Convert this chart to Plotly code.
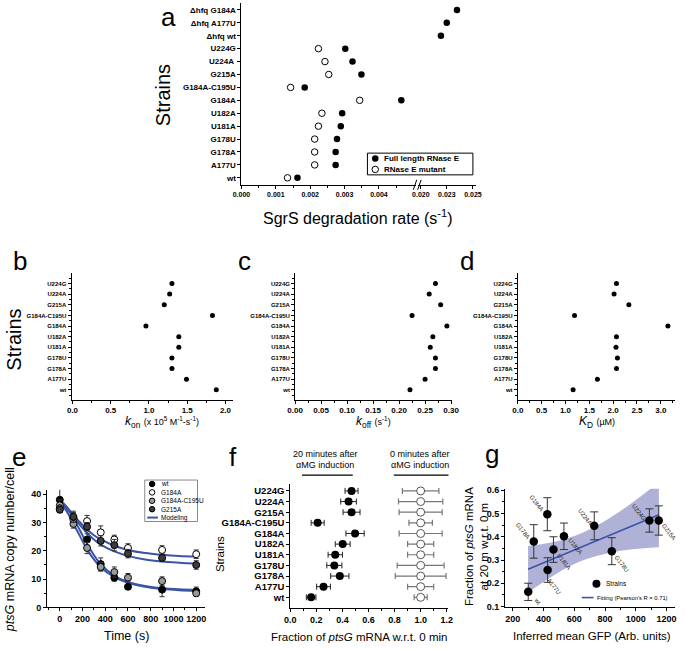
import plotly.graph_objects as go

W, H = 685, 649
FONT = "Liberation Sans, Arial, sans-serif"

# ---------------- data ----------------
# panel a (bottom -> top)
strains_a = ["wt", "A177U", "G178A", "G178U", "U181A", "U182A", "G184A", "G184A-C195U",
             "G215A", "U224A ", "U224G", "Δhfq wt", "Δhfq A177U", "Δhfq G184A"]
rate_full = [0.00163, 0.00274, 0.00274, 0.00278, 0.00289, 0.00293, 0.00465, 0.00184,
             0.00349, 0.00323, 0.00302, 0.02193, 0.02249, 0.02347]
rate_mutant = [0.00134, 0.00213, 0.00213, 0.00213, 0.00224, 0.00234, 0.00344, 0.00143,
               0.00254, 0.00243, 0.00224, None, None, None]
a_ticks_low = [0.000, 0.001, 0.002, 0.003, 0.004]
a_ticks_high = [0.020, 0.0225, 0.025]
a_ticktext_high = ["0.020", "0.023", "0.025"]

# panels b, c, d, f (bottom -> top)
strains = ["wt", "A177U", "G178A", "G178U", "U181A", "U182A", "G184A", "G184A-C195U",
           "G215A", "U224A", "U224G"]
kon = [1.88, 1.49, 1.30, 1.30, 1.39, 1.39, 0.96, 1.83, 1.20, 1.27, 1.30]
koff = [0.221, 0.250, 0.270, 0.270, 0.260, 0.265, 0.292, 0.225, 0.280, 0.258, 0.270]
kd = [1.16, 1.67, 2.07, 2.09, 2.06, 2.07, 3.15, 1.19, 2.33, 2.02, 2.07]

# panel e
times = [0, 120, 240, 360, 480, 600, 900, 1200]
e_wt = [38.0, 31.5, 24.0, 15.3, 10.5, 7.3, 6.3, 5.7]
e_wt_err = [4.5, 2.0, 2.0, 2.2, 1.2, 0.8, 2.5, 1.5]
e_g184a = [36.0, 31.0, 30.5, 26.5, 24.0, 21.0, 20.3, 18.8]
e_g184a_err = [2.0, 2.0, 2.0, 2.3, 1.5, 1.5, 1.5, 1.5]
e_c195u = [35.0, 29.5, 21.0, 14.3, 12.5, 10.5, 9.3, 5.0]
e_c195u_err = [1.5, 1.5, 2.0, 1.5, 1.8, 1.5, 1.5, 1.0]
e_g215a = [34.5, 32.0, 28.5, 23.5, 22.0, 19.0, 17.5, 15.0]
e_g215a_err = [1.0, 2.0, 1.5, 1.8, 2.0, 1.5, 1.3, 1.5]
model_t = [0, 60, 120, 180, 240, 300, 360, 480, 600, 750, 900, 1050, 1200]
model_wt = [38.0, 35.5, 31.5, 27.0, 22.5, 18.5, 15.3, 11.2, 9.0, 7.6, 6.8, 6.4, 6.2]
model_c195u = [37.0, 34.0, 29.5, 25.0, 20.5, 17.0, 14.2, 10.7, 8.7, 7.3, 6.5, 6.1, 5.9]
model_g184a = [37.5, 35.5, 32.5, 30.0, 27.5, 25.5, 24.0, 21.8, 20.3, 19.2, 18.6, 18.2, 18.0]
model_g215a = [37.0, 35.0, 32.0, 29.0, 26.3, 24.0, 22.2, 19.8, 18.2, 16.9, 16.2, 15.8, 15.5]

# panel f
frac20 = [0.160, 0.255, 0.380, 0.338, 0.345, 0.402, 0.497, 0.210, 0.470, 0.447, 0.470]
frac20_err = [0.037, 0.053, 0.070, 0.058, 0.055, 0.057, 0.070, 0.050, 0.065, 0.060, 0.050]
frac0 = [1.0, 1.0, 1.0, 1.0, 1.0, 1.0, 1.0, 1.0, 1.0, 1.0, 1.0]
frac0_err = [0.05, 0.10, 0.195, 0.18, 0.10, 0.10, 0.165, 0.09, 0.165, 0.17, 0.14]

# panel g
strains_g = ["wt", "A177U", "G178A", "G178U", "U181A", "U182A", "G184A", "G215A", "U224A", "U224G"]
gfp = [301, 427, 337, 844, 465, 533, 425, 1149, 730, 1088]
frac_g = [0.163, 0.257, 0.380, 0.338, 0.345, 0.402, 0.497, 0.470, 0.447, 0.470]
frac_g_err = [0.037, 0.053, 0.072, 0.058, 0.055, 0.057, 0.071, 0.063, 0.060, 0.050]
fit_x = [300, 1150]
fit_y = [0.260, 0.495]
band_x = [300, 450, 600, 750, 900, 1050, 1150]
band_lo = [0.160, 0.227, 0.283, 0.318, 0.340, 0.351, 0.355]
band_hi = [0.360, 0.375, 0.403, 0.450, 0.511, 0.583, 0.635]
# label offsets (pixels) for strain labels in g
g_label_dx = [9, 6, -11, 10, 11, 11, -11, 10, -9, -11]
g_label_dy = [-9, -16, 10, -13, -12, -10, 11, -12, 9, 8]


def px(x):
    return x / W


def py(y):
    return 1 - y / H


BLUE = "#3a55a6"
fig = go.Figure()


def axis(dom, rng, anchor, size=8, **kw):
    d = dict(domain=dom, range=rng, anchor=anchor, showline=True, linecolor="black",
             linewidth=1, ticks="outside", ticklen=3, tickwidth=1, tickcolor="black",
             showgrid=False, zeroline=False, fixedrange=True,
             tickfont=dict(family=FONT, size=size, color="black", weight="bold"))
    d.update(kw)
    return d


# ---------------- panel a ----------------
lo_idx = [i for i, v in enumerate(rate_full) if v is not None and v < 0.01]
hi_idx = [i for i, v in enumerate(rate_full) if v is not None and v >= 0.01]
fig.add_trace(go.Scatter(x=[rate_mutant[i] for i in range(len(strains_a)) if rate_mutant[i] is not None],
                         y=[i for i in range(len(strains_a)) if rate_mutant[i] is not None],
                         mode="markers", xaxis="x", yaxis="y",
                         marker=dict(symbol="circle", size=6.5, color="white",
                                     line=dict(color="black", width=1))))
fig.add_trace(go.Scatter(x=[rate_full[i] for i in lo_idx], y=lo_idx, mode="markers",
                         xaxis="x", yaxis="y", marker=dict(size=6.5, color="black")))
fig.add_trace(go.Scatter(x=[rate_full[i] for i in hi_idx], y=hi_idx, mode="markers",
                         xaxis="x2", yaxis="y", marker=dict(size=6.5, color="black")))

# ---------------- panels b, c, d ----------------
ypos = list(range(len(strains)))
for vals, xa, ya in [(kon, "x3", "y3"), (koff, "x4", "y4"), (kd, "x5", "y5")]:
    fig.add_trace(go.Scatter(x=vals, y=ypos, mode="markers", xaxis=xa, yaxis=ya,
                             marker=dict(size=5, color="black")))

# ---------------- panel e ----------------
for mt in [model_wt, model_c195u, model_g184a, model_g215a]:
    fig.add_trace(go.Scatter(x=model_t, y=mt, mode="lines", line=dict(color=BLUE, width=2, shape="spline"),
                             xaxis="x6", yaxis="y6"))
e_series = [
    (e_wt, e_wt_err, dict(symbol="circle", color="black", line=dict(color="black", width=1))),
    (e_g184a, e_g184a_err, dict(symbol="circle", color="white", line=dict(color="black", width=1))),
    (e_c195u, e_c195u_err, dict(symbol="circle", color="#9a9a9a", line=dict(color="black", width=1))),
    (e_g215a, e_g215a_err, dict(symbol="circle", color="#3c3c3c", line=dict(color="black", width=1))),
]
for vals, errs, mk in e_series:
    fig.add_trace(go.Scatter(x=times, y=vals, mode="markers", xaxis="x6", yaxis="y6",
                             error_y=dict(type="data", array=errs, color="#333", thickness=1, width=2.5),
                             marker=dict(size=7, **mk)))

# ---------------- panel f ----------------
fig.add_trace(go.Scatter(x=frac0, y=ypos, mode="markers", xaxis="x7", yaxis="y7",
                         error_x=dict(type="data", array=frac0_err, color="#777", thickness=1.2, width=3),
                         marker=dict(size=8, color="white", line=dict(color="#555", width=1))))
fig.add_trace(go.Scatter(x=frac20, y=ypos, mode="markers", xaxis="x7", yaxis="y7",
                         error_x=dict(type="data", array=frac20_err, color="#222", thickness=1, width=3),
                         marker=dict(size=8, color="black")))

# ---------------- panel g ----------------
fig.add_trace(go.Scatter(x=band_x, y=band_lo, mode="lines", line=dict(width=0, shape="spline"),
                         xaxis="x8", yaxis="y8"))
fig.add_trace(go.Scatter(x=band_x, y=band_hi, mode="lines", line=dict(width=0, shape="spline"),
                         fill="tonexty", fillcolor="#b0b1d6", xaxis="x8", yaxis="y8"))
fig.add_trace(go.Scatter(x=fit_x, y=fit_y, mode="lines", line=dict(color=BLUE, width=1.6),
                         xaxis="x8", yaxis="y8"))
fig.add_trace(go.Scatter(x=gfp, y=frac_g, mode="markers", xaxis="x8", yaxis="y8",
                         error_y=dict(type="data", array=frac_g_err, color="#333", thickness=1, width=4),
                         marker=dict(size=8.5, color="black")))

annotations = []
for s, gx, gy, dx, dy in zip(strains_g, gfp, frac_g, g_label_dx, g_label_dy):
    annotations.append(dict(x=gx, y=gy, xref="x8", yref="y8", text=s, showarrow=False,
                            xshift=dx, yshift=dy, textangle=52,
                            font=dict(family=FONT, size=6, color="#222")))

# ---------------- manual legends (pixel overlay axis) ----------------
leg = dict(xaxis="x9", yaxis="y9", hoverinfo="skip")
# a
fig.add_trace(go.Scatter(x=[375], y=[157.5], mode="markers", marker=dict(size=6.5, color="black"), **leg))
fig.add_trace(go.Scatter(x=[375], y=[168.5], mode="markers",
                         marker=dict(size=6.5, color="white", line=dict(color="black", width=1)), **leg))
# e
for yy, (_, _, mk) in zip([487, 495.5, 504, 512.5], e_series):
    fig.add_trace(go.Scatter(x=[146.5], y=[yy], mode="markers", marker=dict(size=5.5, **mk), **leg))
fig.add_trace(go.Scatter(x=[141.5, 152.5], y=[521, 521], mode="lines", line=dict(color=BLUE, width=2), **leg))
# g
fig.add_trace(go.Scatter(x=[601.5], y=[588], mode="markers", marker=dict(size=8, color="black"), **leg))
fig.add_trace(go.Scatter(x=[586.5, 598.5], y=[602, 602], mode="lines", line=dict(color=BLUE, width=1.6), **leg))


def text(x, y, t, size, anchor="center", angle=0, weight="normal", color="black"):
    annotations.append(dict(x=px(x), y=py(y), xref="paper", yref="paper", text=t, showarrow=False,
                            xanchor=anchor, yanchor="middle", textangle=angle,
                            font=dict(family=FONT, size=size, color=color, weight=weight)))


# legend texts
text(382, 157.5, "Full length RNase E", 8, "left", weight="bold")
text(382, 168.5, "RNase E mutant", 8, "left", weight="bold")
for yy, t in zip([487, 495.5, 504, 512.5, 521], ["wt", "G184A", "G184A-C195U", "G215A", "Modeling"]):
    text(154, yy, t, 6.5, "left")
text(609, 588, "Strains", 6.5, "left")
text(600, 602, "Fitting (Pearson's R = 0.71)", 5.8, "left")

# panel letters
for lx, ly, t in [(163, 14, "a"), (11, 261, "b"), (241, 261, "c"), (469, 261, "d"),
                  (10, 460, "e"), (229, 460, "f"), (495, 457, "g")]:
    text(lx, ly, t, 26)

# axis titles
text(158, 93, "Strains", 20, angle=-90)
text(5, 341, "Strains", 20, angle=-90)
text(216, 558, "Strains", 11.5, angle=-90)
text(357, 217, "SgrS degradation rate (s<sup>-1</sup>)", 16)
text(157, 424, "<i>k</i><sub>on</sub> <span style='font-size:9px'>(x 10<sup>5</sup> M<sup>-1</sup>-s<sup>-1</sup>)</span>", 12)
text(373, 424, "<i>k</i><sub>off</sub> <span style='font-size:9px'>(s<sup>-1</sup>)</span>", 12)
text(602, 424, "<i>K</i><sub>D</sub> <span style='font-size:9px'>(µM)</span>", 12)
text(1, 553, "<i>ptsG</i> mRNA copy number/cell", 12.5, angle=-90)
text(120, 641, "Time (s)", 12.5)
text(358, 642, "Fraction of <i>ptsG</i> mRNA w.r.t. 0 min", 11.5)
text(478, 550, "Fraction of <i>ptsG</i> mRNA<br>at 20 m w.r.t. 0 m", 11.5, angle=-90)
text(597, 641, "Inferred mean GFP (Arb. units)", 11.5)
text(324, 457, "20 minutes after", 9)
text(324, 468, "αMG induction", 9)
text(421, 457, "0 minutes after", 9)
text(421, 468, "αMG induction", 9)

shapes = [
    # legend boxes
    dict(type="rect", xref="paper", yref="paper", x0=px(367), x1=px(475), y0=py(152), y1=py(174),
         line=dict(color="black", width=1)),
    dict(type="rect", xref="paper", yref="paper", x0=px(139), x1=px(193), y0=py(483), y1=py(525),
         line=dict(color="#888", width=1)),
    # axis break marks
    dict(type="line", xref="paper", yref="paper", x0=px(414), x1=px(417.5), y0=py(189), y1=py(179),
         line=dict(color="black", width=1)),
    dict(type="line", xref="paper", yref="paper", x0=px(418.5), x1=px(422), y0=py(189), y1=py(179),
         line=dict(color="black", width=1)),
    # f header underlines
    dict(type="line", xref="paper", yref="paper", x0=px(300), x1=px(352), y0=py(478), y1=py(478),
         line=dict(color="black", width=1.2)),
    dict(type="line", xref="paper", yref="paper", x0=px(394), x1=px(450), y0=py(478), y1=py(478),
         line=dict(color="black", width=1.2)),
]

yb_dom = [py(401.7), py(273)]
cat_minor = dict(ticks="outside", ticklen=2, tickcolor="black",
                 tickvals=[i + 0.5 for i in range(-1, len(strains))])

layout = dict(
    width=W, height=H, margin=dict(l=0, r=0, t=0, b=0), showlegend=False,
    plot_bgcolor="rgba(0,0,0,0)", paper_bgcolor="white",
    annotations=annotations, shapes=shapes,
    # a
    xaxis=axis([px(238), px(417)], [0, 0.005085], "y", size=7,
               tickvals=a_ticks_low, ticktext=[f"{v:.3f}" for v in a_ticks_low],
               minor=dict(ticks="outside", ticklen=2, tickcolor="black",
                          tickvals=[0.0005, 0.0015, 0.0025, 0.0035, 0.0045])),
    xaxis2=axis([px(419), px(478)], [0.01975, 0.02528], "y", size=7,
                tickvals=a_ticks_high, ticktext=a_ticktext_high),
    yaxis=axis([py(184), py(0)], [-0.535, 13.535], "x", size=8,
               tickvals=list(range(len(strains_a))), ticktext=strains_a),
    # b
    xaxis3=axis([px(64), px(229)], [-0.013, 2.094], "y3", size=8,
                tickvals=[0, 0.5, 1.0, 1.5, 2.0], ticktext=["0.0", "0.5", "1.0", "1.5", "2.0"],
                minor=dict(ticks="outside", ticklen=2, tickcolor="black", dtick=0.25, tick0=0)),
    yaxis3=axis(yb_dom, [-0.93, 11.02], "x3", size=6, tickvals=ypos, ticktext=strains, minor=cat_minor),
    # c
    xaxis4=axis([px(293), px(454)], [0, 0.3026], "y4", size=8,
                tickvals=[0, 0.05, 0.10, 0.15, 0.20, 0.25, 0.30],
                ticktext=["0.00", "0.05", "0.10", "0.15", "0.20", "0.25", "0.30"],
                minor=dict(ticks="outside", ticklen=2, tickcolor="black", dtick=0.025, tick0=0)),
    yaxis4=axis(yb_dom, [-0.93, 11.02], "x4", size=6, tickvals=ypos, ticktext=strains, minor=cat_minor),
    # d
    xaxis5=axis([px(521), px(682)], [0, 3.30], "y5", size=8,
                tickvals=[0, 0.5, 1.0, 1.5, 2.0, 2.5, 3.0],
                ticktext=["0.0", "0.5", "1.0", "1.5", "2.0", "2.5", "3.0"],
                minor=dict(ticks="outside", ticklen=2, tickcolor="black", dtick=0.25, tick0=0)),
    yaxis5=axis(yb_dom, [-0.93, 11.02], "x5", size=6, tickvals=ypos, ticktext=strains, minor=cat_minor),
    # e
    xaxis6=axis([px(39), px(201)], [-111.7, 1280], "y6", size=9,
                tickvals=[0, 200, 400, 600, 800, 1000, 1200],
                minor=dict(ticks="outside", ticklen=2, tickcolor="black", dtick=100, tick0=0)),
    yaxis6=axis([py(612), py(492.7)], [0, 41.6], "x6", size=9, tickvals=[0, 10, 20, 30, 40],
                minor=dict(ticks="outside", ticklen=2, tickcolor="black", dtick=5, tick0=0)),
    # f
    xaxis7=axis([px(288), px(450)], [0, 1.2135], "y7", size=9,
                tickvals=[0, 0.2, 0.4, 0.6, 0.8, 1.0, 1.2],
                ticktext=["0.0", "0.2", "0.4", "0.6", "0.8", "1.0", "1.2"],
                minor=dict(ticks="outside", ticklen=2, tickcolor="black", dtick=0.1, tick0=0)),
    yaxis7=axis([py(612.3), py(487)], [-0.98, 10.65], "x7", size=9.5, tickvals=ypos, ticktext=strains),
    # g
    xaxis8=axis([px(508), px(682)], [151, 1255], "y8", size=9,
                tickvals=[200, 400, 600, 800, 1000, 1200],
                minor=dict(ticks="outside", ticklen=2, tickcolor="black", dtick=100, tick0=0)),
    yaxis8=axis([py(611.5), py(491.7)], [0.098, 0.607], "x8", size=9,
                tickvals=[0.1, 0.2, 0.3, 0.4, 0.5, 0.6],
                minor=dict(ticks="outside", ticklen=2, tickcolor="black", dtick=0.05, tick0=0.1)),
    # overlay pixel axis for legends
    xaxis9=dict(domain=[0, 1], range=[0, W], visible=False, anchor="y9", fixedrange=True),
    yaxis9=dict(domain=[0, 1], range=[H, 0], visible=False, anchor="x9", fixedrange=True),
)
fig.update_layout(**layout)
fig.write_html("out.html", config={"displayModeBar": False},
               post_script="document.body.style.margin='0px';")
